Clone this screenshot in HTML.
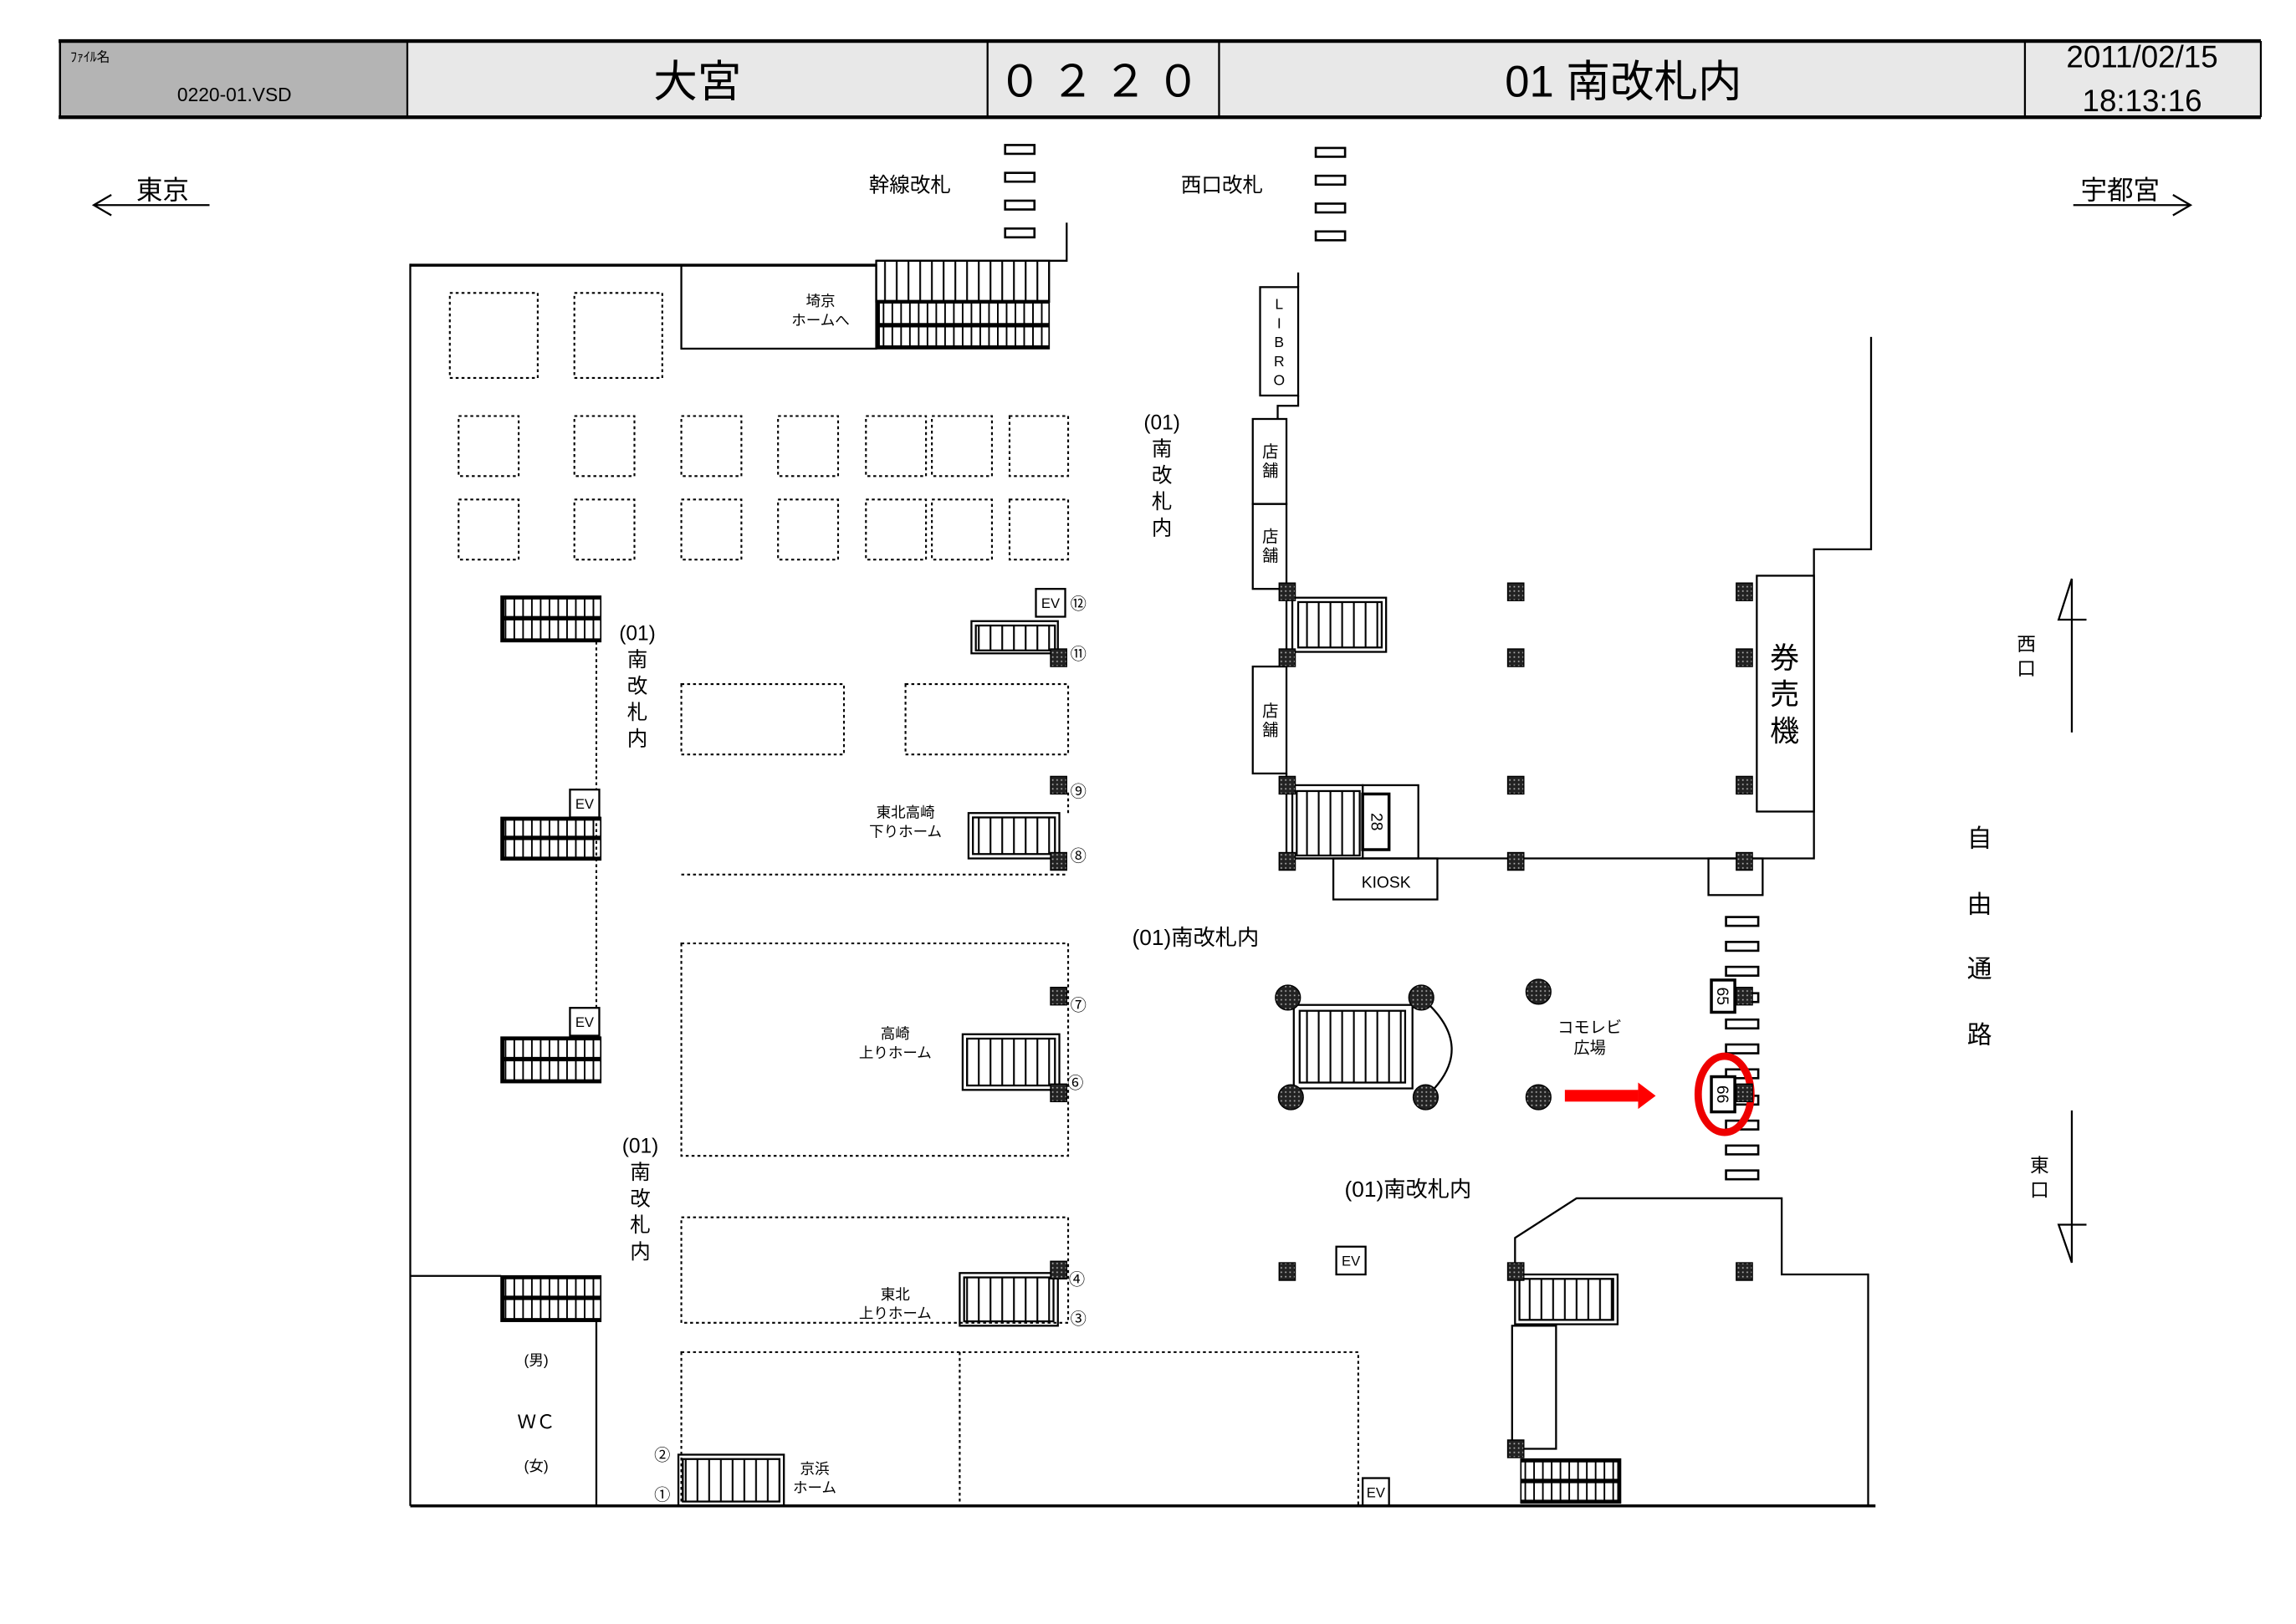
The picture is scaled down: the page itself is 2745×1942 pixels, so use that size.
<!DOCTYPE html>
<html><head><meta charset="utf-8"><style>
html,body{margin:0;padding:0;background:#fff;}
svg{display:block;}
text{font-family:"Liberation Sans","Noto Sans CJK JP",sans-serif;fill:#000;}
</style></head><body>
<svg width="2745" height="1942" viewBox="0 0 1567 1108.6" preserveAspectRatio="none" xmlns="http://www.w3.org/2000/svg">
<defs>
<pattern id="tr" width="8" height="10" patternUnits="userSpaceOnUse"><line x1="4" y1="0" x2="4" y2="10" stroke="#000" stroke-width="1.2"/></pattern>
<pattern id="dk" width="6" height="10" patternUnits="userSpaceOnUse"><line x1="3" y1="0" x2="3" y2="10" stroke="#000" stroke-width="1.1"/></pattern>
<pattern id="ch" width="3" height="3" patternUnits="userSpaceOnUse"><rect width="3" height="3" fill="#222"/><rect x="1" y="1" width="1" height="1" fill="#aaa"/></pattern>
</defs>
<g stroke="#000" fill="none" stroke-width="1.3">
<rect x="40" y="27" width="238" height="53" fill="#b4b4b4" stroke="none"/>
<rect x="278" y="27" width="1265" height="53" fill="#e8e8e8" stroke="none"/>
<line x1="40" y1="28" x2="1543" y2="28" stroke-width="2.5"/>
<line x1="40" y1="80" x2="1543" y2="80" stroke-width="2.5"/>
<line x1="41" y1="28" x2="41" y2="80"/><line x1="1543" y1="28" x2="1543" y2="80"/>
<line x1="278" y1="28" x2="278" y2="80"/><line x1="674" y1="28" x2="674" y2="80"/>
<line x1="832" y1="28" x2="832" y2="80"/><line x1="1382" y1="28" x2="1382" y2="80"/>
<line x1="64" y1="140" x2="143" y2="140"/><polyline points="76,133 64,140 76,147"/>
<line x1="1415" y1="140" x2="1495" y2="140"/><polyline points="1483,133 1495,140 1483,147"/>
<g stroke-width="1.5">
<rect x="686" y="99" width="20" height="6"/><rect x="686" y="118" width="20" height="6"/><rect x="686" y="137" width="20" height="6"/><rect x="686" y="156" width="20" height="6"/>
<rect x="898" y="101" width="20" height="6"/><rect x="898" y="120" width="20" height="6"/><rect x="898" y="139" width="20" height="6"/><rect x="898" y="158" width="20" height="6"/>
</g>
<line x1="280" y1="180" x2="280" y2="1028"/>
<line x1="280" y1="181" x2="598" y2="181" stroke-width="2"/>
<rect x="465" y="181" width="133" height="57"/>
<polyline points="728,152 728,178 598,178"/>
<rect x="598" y="178" width="118" height="28" fill="url(#tr)"/>
<rect x="598" y="206" width="118" height="32" fill="url(#dk)" stroke-width="1"/>
<line x1="598" y1="206" x2="716" y2="206" stroke-width="2.5"/><line x1="598" y1="222" x2="716" y2="222" stroke-width="3"/><line x1="598" y1="237" x2="716" y2="237" stroke-width="2.5"/><line x1="599" y1="206" x2="599" y2="238" stroke-width="3"/>
<line x1="280" y1="1028" x2="1280" y2="1028" stroke-width="2"/>
<line x1="886" y1="186" x2="886" y2="196"/>
<rect x="860" y="196" width="26" height="74"/>
<polyline points="886,270 886,277 872,277 872,286"/>
<rect x="855" y="286" width="23" height="58"/><rect x="855" y="344" width="23" height="58"/><rect x="855" y="455" width="23" height="73"/>
<polyline points="878,402 878,455"/><polyline points="878,528 878,586 1238,586 1238,375 1277,375 1277,230"/>
<rect x="1199" y="393" width="39" height="161"/>
<rect x="1166" y="586" width="37" height="25"/>
<rect x="882" y="408" width="64" height="37"/><rect x="886" y="411" width="57" height="31" fill="url(#tr)"/>
<rect x="882" y="536" width="48" height="50"/><rect x="885" y="540" width="43" height="44" fill="url(#tr)"/>
<rect x="930" y="536" width="38" height="50"/>
<rect x="930" y="542" width="18" height="38" fill="#fff" stroke-width="2"/>
<rect x="910" y="586" width="71" height="28"/>
<rect x="883" y="686" width="81" height="57"/><rect x="887" y="690" width="72" height="49" fill="url(#tr)"/>
<path d="M970,681 Q1010,715 973,749"/>
<g stroke-width="1.5">
<rect x="1178" y="626" width="22" height="6"/><rect x="1178" y="643" width="22" height="6"/><rect x="1178" y="660" width="22" height="6"/><rect x="1178" y="678" width="22" height="6"/><rect x="1178" y="696" width="22" height="6"/><rect x="1178" y="713" width="22" height="6"/><rect x="1178" y="730" width="22" height="6"/><rect x="1178" y="748" width="22" height="6"/><rect x="1178" y="765" width="22" height="6"/><rect x="1178" y="782" width="22" height="6"/><rect x="1178" y="799" width="22" height="6"/>
</g>
<rect x="1168" y="669" width="16" height="22" fill="#fff" stroke-width="2"/>
<rect x="1168" y="735" width="16" height="24" fill="#fff" stroke-width="2"/>
<polyline points="1034,868 1034,845 1076,818 1216,818 1216,870 1275,870 1275,1028"/>
<rect x="1034" y="870" width="70" height="34"/><rect x="1037" y="873" width="64" height="28" fill="url(#tr)"/>
<rect x="1032" y="905" width="30" height="84"/>
<rect x="1038" y="996" width="68" height="30" fill="url(#dk)" stroke-width="1"/>
<line x1="1038" y1="997" x2="1106" y2="997" stroke-width="2.5"/><line x1="1038" y1="1011" x2="1106" y2="1011" stroke-width="3"/><line x1="1038" y1="1025" x2="1106" y2="1025" stroke-width="2.5"/><line x1="1105" y1="996" x2="1105" y2="1026" stroke-width="2.5"/>
<rect x="912" y="851" width="20" height="19"/>
<g stroke-dasharray="2,2" stroke-width="1.2">
<rect x="307" y="200" width="60" height="58"/><rect x="392" y="200" width="60" height="58"/>
<rect x="313" y="284" width="41" height="41"/><rect x="392" y="284" width="41" height="41"/><rect x="465" y="284" width="41" height="41"/><rect x="531" y="284" width="41" height="41"/><rect x="591" y="284" width="41" height="41"/><rect x="636" y="284" width="41" height="41"/><rect x="689" y="284" width="40" height="41"/>
<rect x="313" y="341" width="41" height="41"/><rect x="392" y="341" width="41" height="41"/><rect x="465" y="341" width="41" height="41"/><rect x="531" y="341" width="41" height="41"/><rect x="591" y="341" width="41" height="41"/><rect x="636" y="341" width="41" height="41"/><rect x="689" y="341" width="40" height="41"/>
<line x1="407" y1="438" x2="407" y2="708"/>
<rect x="465" y="467" width="111" height="48"/><rect x="618" y="467" width="111" height="48"/>
<line x1="465" y1="597" x2="729" y2="597"/><line x1="729" y1="541" x2="729" y2="556"/>
<rect x="465" y="644" width="264" height="145"/>
<rect x="465" y="831" width="264" height="72"/>
<rect x="465" y="923" width="462" height="105"/><line x1="655" y1="923" x2="655" y2="1028"/>
</g>
<g stroke-width="1">
<rect x="342" y="407" width="68" height="31" fill="url(#dk)"/><line x1="342" y1="408" x2="410" y2="408" stroke-width="2.5"/><line x1="342" y1="422" x2="410" y2="422" stroke-width="3"/><line x1="342" y1="437" x2="410" y2="437" stroke-width="2.5"/><line x1="343" y1="407" x2="343" y2="438" stroke-width="2.5"/>
<rect x="342" y="558" width="68" height="29" fill="url(#dk)"/><line x1="342" y1="559" x2="410" y2="559" stroke-width="2.5"/><line x1="342" y1="572" x2="410" y2="572" stroke-width="3"/><line x1="342" y1="586" x2="410" y2="586" stroke-width="2.5"/><line x1="343" y1="558" x2="343" y2="587" stroke-width="2.5"/>
<rect x="342" y="708" width="68" height="31" fill="url(#dk)"/><line x1="342" y1="709" x2="410" y2="709" stroke-width="2.5"/><line x1="342" y1="723" x2="410" y2="723" stroke-width="3"/><line x1="342" y1="738" x2="410" y2="738" stroke-width="2.5"/><line x1="343" y1="708" x2="343" y2="739" stroke-width="2.5"/>
<rect x="342" y="871" width="68" height="31" fill="url(#dk)"/><line x1="342" y1="872" x2="410" y2="872" stroke-width="2.5"/><line x1="342" y1="886" x2="410" y2="886" stroke-width="3"/><line x1="342" y1="901" x2="410" y2="901" stroke-width="2.5"/><line x1="343" y1="871" x2="343" y2="902" stroke-width="2.5"/>
</g>
<rect x="389" y="539" width="20" height="19" fill="#fff"/><rect x="389" y="688" width="20" height="19" fill="#fff"/>
<line x1="280" y1="871" x2="342" y2="871"/><line x1="407" y1="902" x2="407" y2="1028"/>
<rect x="707" y="402" width="20" height="19"/>
<rect x="663" y="424" width="59" height="22"/><rect x="666" y="427" width="54" height="17" fill="url(#tr)"/>
<rect x="661" y="555" width="62" height="31"/><rect x="664" y="558" width="56" height="25" fill="url(#tr)"/>
<rect x="657" y="706" width="66" height="38"/><rect x="660" y="709" width="60" height="32" fill="url(#tr)"/>
<rect x="655" y="869" width="67" height="36"/><rect x="658" y="872" width="61" height="30" fill="url(#tr)"/>
<rect x="463" y="993" width="72" height="35"/><rect x="466" y="996" width="66" height="29" fill="url(#tr)"/>
<rect x="930" y="1009" width="18" height="19"/>
<line x1="1414" y1="395" x2="1414" y2="500"/><polyline points="1414,395 1405,423 1424,423"/>
<line x1="1414" y1="758" x2="1414" y2="862"/><polyline points="1414,862 1405,836 1424,836"/>
<ellipse cx="1177" cy="747" rx="18" ry="26" stroke="#e00" stroke-width="5"/>
</g>
<g fill="url(#ch)" stroke="#000" stroke-width="0.8">
<rect x="873" y="398" width="11" height="12"/><rect x="1029" y="398" width="11" height="12"/><rect x="1185" y="398" width="11" height="12"/>
<rect x="873" y="443" width="11" height="12"/><rect x="1029" y="443" width="11" height="12"/><rect x="1185" y="443" width="11" height="12"/>
<rect x="873" y="530" width="11" height="12"/><rect x="1029" y="530" width="11" height="12"/><rect x="1185" y="530" width="11" height="12"/>
<rect x="873" y="582" width="11" height="12"/><rect x="1029" y="582" width="11" height="12"/><rect x="1185" y="582" width="11" height="12"/>
<rect x="873" y="862" width="11" height="12"/><rect x="1029" y="862" width="11" height="12"/><rect x="1185" y="862" width="11" height="12"/>
<rect x="1029" y="983" width="11" height="12"/>
<rect x="1185" y="674" width="11" height="12"/><rect x="1185" y="740" width="11" height="12"/>
<rect x="717" y="443" width="11" height="12"/><rect x="717" y="530" width="11" height="12"/><rect x="717" y="582" width="11" height="12"/>
<rect x="717" y="674" width="11" height="12"/><rect x="717" y="740" width="11" height="12"/><rect x="717" y="861" width="11" height="12"/>
<circle cx="879" cy="681" r="8.5"/><circle cx="970" cy="681" r="8.5"/><circle cx="881" cy="749" r="8.5"/><circle cx="973" cy="749" r="8.5"/>
<circle cx="1050" cy="677" r="8.5"/><circle cx="1050" cy="749" r="8.5"/>
</g>
<rect x="1068" y="744" width="50" height="8" fill="#f00"/><polygon points="1118,739 1130,748 1118,757" fill="#f00"/>
<text x="48" y="42" font-size="9">ﾌｧｲﾙ名</text>
<text x="160" y="69" font-size="13" text-anchor="middle">0220-01.VSD</text>
<text x="476" y="66" font-size="30" text-anchor="middle">大宮</text>
<text x="753" y="66" font-size="30" text-anchor="middle" letter-spacing="6">０２２０</text>
<text x="1108" y="66" font-size="30" text-anchor="middle">01 南改札内</text>
<text x="1462" y="46" font-size="21" text-anchor="middle">2011/02/15</text>
<text x="1462" y="76" font-size="21" text-anchor="middle">18:13:16</text>
<text x="111" y="136" font-size="18" text-anchor="middle">東京</text>
<text x="1447" y="136" font-size="18" text-anchor="middle">宇都宮</text>
<text x="621" y="131" font-size="14" text-anchor="middle">幹線改札</text>
<text x="834" y="131" font-size="14" text-anchor="middle">西口改札</text>
<text x="560" y="209" font-size="10" text-anchor="middle">埼京</text><text x="560" y="222" font-size="10" text-anchor="middle">ホームへ</text>
<g font-size="10" text-anchor="middle"><text x="873" y="211">L</text><text x="873" y="224">I</text><text x="873" y="237">B</text><text x="873" y="250">R</text><text x="873" y="263">O</text></g>
<g font-size="11" text-anchor="middle"><text x="867" y="312">店</text><text x="867" y="325">舗</text><text x="867" y="370">店</text><text x="867" y="383">舗</text><text x="867" y="489">店</text><text x="867" y="502">舗</text></g>
<g font-size="14" text-anchor="middle">
<text x="793" y="293">(01)</text><text x="793" y="311">南</text><text x="793" y="329">改</text><text x="793" y="347">札</text><text x="793" y="365">内</text>
<text x="435" y="437">(01)</text><text x="435" y="455">南</text><text x="435" y="473">改</text><text x="435" y="491">札</text><text x="435" y="509">内</text>
<text x="437" y="787">(01)</text><text x="437" y="805">南</text><text x="437" y="823">改</text><text x="437" y="841">札</text><text x="437" y="859">内</text>
</g>
<g font-size="20" text-anchor="middle"><text x="1218" y="456">券</text><text x="1218" y="481">売</text><text x="1218" y="506">機</text></g>
<g font-size="17" text-anchor="middle"><text x="1351" y="578">自</text><text x="1351" y="623">由</text><text x="1351" y="667">通</text><text x="1351" y="712">路</text></g>
<g font-size="13" text-anchor="middle"><text x="1383" y="444">西</text><text x="1383" y="461">口</text><text x="1392" y="800">東</text><text x="1392" y="817">口</text></g>
<text x="816" y="645" font-size="15" text-anchor="middle">(01)南改札内</text>
<text x="961" y="817" font-size="15" text-anchor="middle">(01)南改札内</text>
<text x="1085" y="705" font-size="11" text-anchor="middle">コモレビ</text><text x="1085" y="719" font-size="11" text-anchor="middle">広場</text>
<text x="946" y="606" font-size="11" text-anchor="middle">KIOSK</text>
<g font-size="11" text-anchor="middle">
<text transform="translate(936,561) rotate(90)">28</text>
<text transform="translate(1172,680) rotate(90)">65</text>
<text transform="translate(1172,747) rotate(90)">66</text>
</g>
<g font-size="9.5" text-anchor="middle">
<text x="717" y="415">EV</text><text x="399" y="552">EV</text><text x="399" y="701">EV</text><text x="922" y="864">EV</text><text x="939" y="1022">EV</text>
</g>
<g font-size="11" text-anchor="middle">
<text x="736" y="416">⑫</text><text x="736" y="450">⑪</text><text x="736" y="544">⑨</text><text x="736" y="588">⑧</text>
<text x="736" y="690">⑦</text><text x="734" y="743">⑥</text><text x="735" y="877">④</text><text x="736" y="904">③</text>
<text x="452" y="997">②</text><text x="452" y="1024">①</text>
</g>
<g font-size="10" text-anchor="middle">
<text x="618" y="558">東北高崎</text><text x="618" y="571">下りホーム</text>
<text x="611" y="709">高崎</text><text x="611" y="722">上りホーム</text>
<text x="611" y="887">東北</text><text x="611" y="900">上りホーム</text>
<text x="556" y="1006">京浜</text><text x="556" y="1019">ホーム</text>
<text x="366" y="932">(男)</text><text x="366" y="1004">(女)</text>
</g>
<text x="366" y="975" font-size="13" text-anchor="middle">ＷＣ</text>
</svg>
</body></html>
